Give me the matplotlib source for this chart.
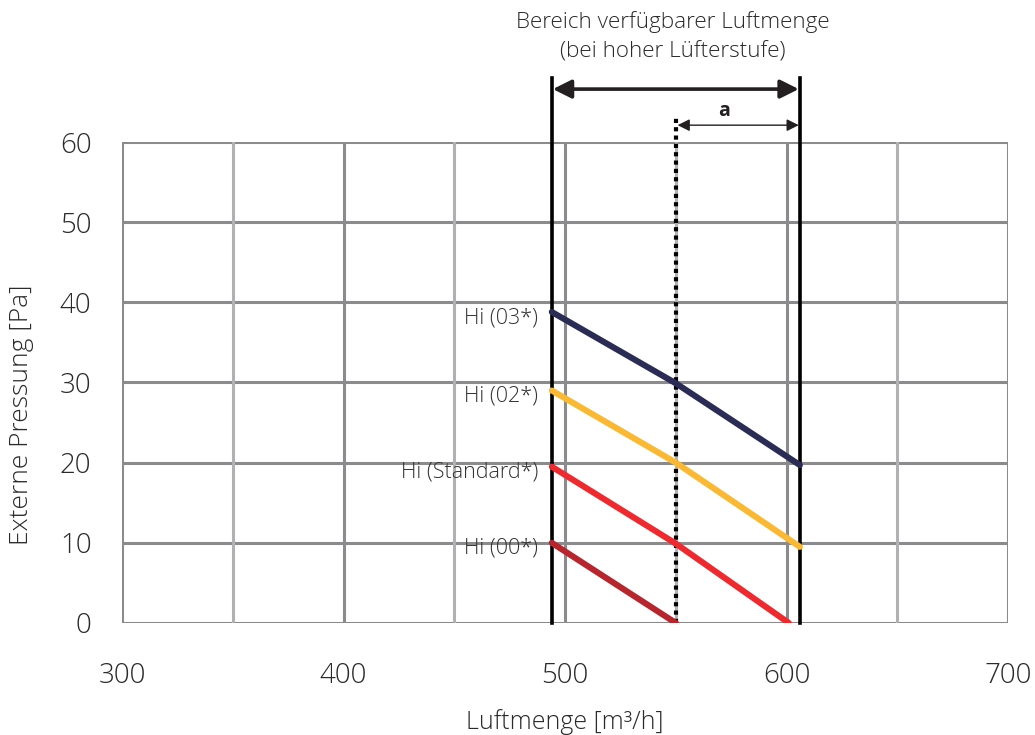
import numpy as np
import matplotlib.pyplot as plt

plt.rcParams['font.family'] = ['Open Sans', 'DejaVu Sans']

# Data
x_03 = [494, 550, 606]
y_03 = [38.8, 29.9, 19.7]
x_02 = [494, 550, 606]
y_02 = [29.0, 20.0, 9.5]
x_std = [494, 550, 601]
y_std = [19.5, 9.9, 0.0]
x_00 = [494, 550]
y_00 = [10.0, 0.0]

labels = ['Hi (03*)', 'Hi (02*)', 'Hi (Standard*)', 'Hi (00*)']
colors = ['#2b2c55', '#fbb832', '#ee2a2f', '#b7252d']

x_min_flow = 494   # left boundary
x_rated = 550      # dotted line
x_max_flow = 606   # right boundary

x_ticks = [300, 400, 500, 600, 700]
y_ticks = [0, 10, 20, 30, 40, 50, 60]

fig = plt.figure(figsize=(10.35, 7.35), dpi=100)
ax = fig.add_axes([0.1179, 0.1524, 0.8561, 0.6544])
ax.set_xlim(300, 700)
ax.set_ylim(0, 60)

# grid
dark = '#8b8b8d'
light = '#b1b1b3'
for yv in y_ticks:
    ax.axhline(yv, color=dark, lw=2.2, zorder=1)
for xv in np.arange(300, 701, 50):
    ax.axvline(xv, color=dark if xv % 100 == 0 else light, lw=2.2, zorder=1)

for s in ax.spines.values():
    s.set_visible(False)
tc = '#2a2a2a'
ax.tick_params(length=0, labelsize=20, colors=tc)
ax.tick_params(axis='x', pad=28)
ax.tick_params(axis='y', pad=22)
ax.set_xticks(x_ticks)
ax.set_yticks(y_ticks)
for t in ax.get_xticklabels() + ax.get_yticklabels():
    t.set_fontweight('light')
ax.set_xlabel('Luftmenge [m³/h]', fontsize=18, color=tc, fontweight='light', va='center')
ax.xaxis.set_label_coords(0.5, -0.205)
ax.set_ylabel('Externe Pressung [Pa]', fontsize=19, color=tc, fontweight='light', va='center')
ax.yaxis.set_label_coords(-0.113, 0.432)

# boundary lines
ax.plot([x_min_flow, x_min_flow], [0, 68], color='black', lw=2.6, zorder=3, clip_on=False)
ax.plot([x_max_flow, x_max_flow], [0, 68], color='black', lw=2.6, zorder=3, clip_on=False)
ax.plot([x_rated, x_rated], [0, 63.4], color='black', lw=3, ls=(0, (1, 1)), zorder=3, clip_on=False)

# curves
for xs, ys, c in zip([x_03, x_02, x_std, x_00], [y_03, y_02, y_std, y_00], colors):
    ax.plot(xs, ys, color=c, lw=4.4, solid_capstyle='round', zorder=4)

for lab, ys in zip(labels, [y_03, y_02, y_std, y_00]):
    ax.text(488, ys[0] - 0.7, lab, ha='right', va='center', fontsize=15.5,
            color='#333333', fontweight='light', zorder=5)

# arrows above the plot
ax.annotate('', xy=(x_min_flow + 0.5, 66.6), xytext=(x_max_flow - 0.5, 66.6),
            arrowprops=dict(arrowstyle='<|-|>', color='#231f20', lw=2.6,
                            mutation_scale=28, shrinkA=0, shrinkB=0),
            annotation_clip=False)
ax.annotate('', xy=(x_rated + 0.8, 62.1), xytext=(x_max_flow - 0.5, 62.1),
            arrowprops=dict(arrowstyle='<|-|>', color='#231f20', lw=1.0,
                            mutation_scale=18, shrinkA=0, shrinkB=0),
            annotation_clip=False)
ax.text(572, 63.9, 'a', ha='center', va='center', fontsize=14, fontweight='bold',
        color='#231f20')

ax.text(548.5, 75.0, 'Bereich verfügbarer Luftmenge', ha='center', va='center',
        fontsize=16.2, color=tc, fontweight='light')
ax.text(548.5, 71.2, '(bei hoher Lüfterstufe)', ha='center', va='center',
        fontsize=16.2, color=tc, fontweight='light')

fig.savefig('out.png', dpi=100)
